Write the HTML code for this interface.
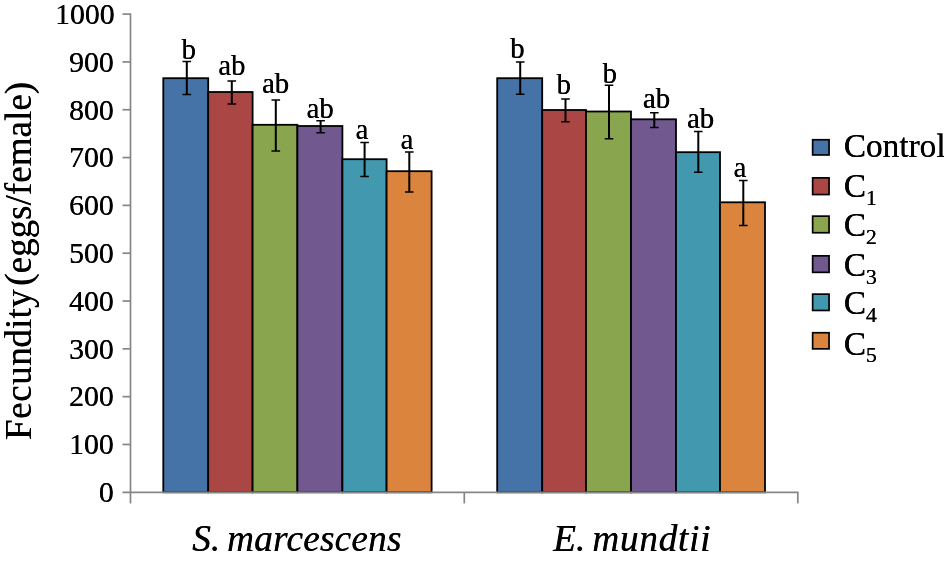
<!DOCTYPE html>
<html lang="en">
<head>
<meta charset="utf-8">
<title>Fecundity chart</title>
<style>
html,body{margin:0;padding:0;background:#fff;}
body{width:944px;height:562px;overflow:hidden;}
svg{display:block;}
</style>
</head>
<body>
<svg width="944" height="562" viewBox="0 0 944 562">
<rect width="944" height="562" fill="#ffffff"/>
<rect x="163.3" y="78.2" width="44.9" height="414.1" fill="#4572A7" stroke="#000" stroke-width="1.8"/>
<rect x="208.2" y="92" width="44.4" height="400.3" fill="#AA4643" stroke="#000" stroke-width="1.8"/>
<rect x="252.6" y="124.8" width="44.8" height="367.5" fill="#89A54E" stroke="#000" stroke-width="1.8"/>
<rect x="297.4" y="126" width="45" height="366.3" fill="#71588F" stroke="#000" stroke-width="1.8"/>
<rect x="342.4" y="159.2" width="44.2" height="333.1" fill="#4198AF" stroke="#000" stroke-width="1.8"/>
<rect x="386.6" y="171.2" width="45" height="321.1" fill="#DB843D" stroke="#000" stroke-width="1.8"/>
<rect x="497.2" y="78.2" width="45" height="414.1" fill="#4572A7" stroke="#000" stroke-width="1.8"/>
<rect x="542.2" y="110" width="43.8" height="382.3" fill="#AA4643" stroke="#000" stroke-width="1.8"/>
<rect x="586" y="111.5" width="45" height="380.8" fill="#89A54E" stroke="#000" stroke-width="1.8"/>
<rect x="631" y="119.3" width="45" height="373" fill="#71588F" stroke="#000" stroke-width="1.8"/>
<rect x="676" y="152.2" width="44" height="340.1" fill="#4198AF" stroke="#000" stroke-width="1.8"/>
<rect x="720" y="202.3" width="45" height="290" fill="#DB843D" stroke="#000" stroke-width="1.8"/>
<g stroke="#868686" stroke-width="1.7" fill="none">
<path d="M130.5 13.4 V503.4"/>
<path d="M122.5 492.3 H798.5"/>
<path d="M122.5 14.1 H130.5"/>
<path d="M122.5 61.92 H130.5"/>
<path d="M122.5 109.74 H130.5"/>
<path d="M122.5 157.56 H130.5"/>
<path d="M122.5 205.38 H130.5"/>
<path d="M122.5 253.2 H130.5"/>
<path d="M122.5 301.02 H130.5"/>
<path d="M122.5 348.84 H130.5"/>
<path d="M122.5 396.66 H130.5"/>
<path d="M122.5 444.48 H130.5"/>
<path d="M464.3 492.3 V503.4"/>
<path d="M797.8 492.3 V503.4"/>
</g>
<g stroke="#000" fill="none">
<path stroke-width="2" d="M186.8 61.5 V94.5"/><path stroke-width="1.5" d="M182.5 61.5 H191.1 M182.5 94.5 H191.1"/>
<path stroke-width="2" d="M231.8 81 V104"/><path stroke-width="1.5" d="M227.5 81 H236.1 M227.5 104 H236.1"/>
<path stroke-width="2" d="M275.8 100 V151"/><path stroke-width="1.5" d="M271.5 100 H280.1 M271.5 151 H280.1"/>
<path stroke-width="2" d="M320.6 120.8 V132.7"/><path stroke-width="1.5" d="M316.3 120.8 H324.9 M316.3 132.7 H324.9"/>
<path stroke-width="2" d="M364.6 142.5 V176.5"/><path stroke-width="1.5" d="M360.3 142.5 H368.9 M360.3 176.5 H368.9"/>
<path stroke-width="2" d="M409.3 152 V192.1"/><path stroke-width="1.5" d="M405 152 H413.6 M405 192.1 H413.6"/>
<path stroke-width="2" d="M520.2 62 V94.3"/><path stroke-width="1.5" d="M515.9 62 H524.5 M515.9 94.3 H524.5"/>
<path stroke-width="2" d="M565.5 99 V121.8"/><path stroke-width="1.5" d="M561.2 99 H569.8 M561.2 121.8 H569.8"/>
<path stroke-width="2" d="M609 85.3 V138.8"/><path stroke-width="1.5" d="M604.7 85.3 H613.3 M604.7 138.8 H613.3"/>
<path stroke-width="2" d="M654.3 112.8 V127.5"/><path stroke-width="1.5" d="M650 112.8 H658.6 M650 127.5 H658.6"/>
<path stroke-width="2" d="M698.3 131.6 V172.3"/><path stroke-width="1.5" d="M694 131.6 H702.6 M694 172.3 H702.6"/>
<path stroke-width="2" d="M743.3 180.5 V225.5"/><path stroke-width="1.5" d="M739 180.5 H747.6 M739 225.5 H747.6"/>
</g>
<g font-family="'Liberation Serif', serif" font-size="29.8" fill="#000" style="text-shadow:0.35px 0 0 #000">
<text x="54.92" y="23.9">1000</text>
<text x="68.92" y="71.72">900</text>
<text x="68.92" y="119.54">800</text>
<text x="68.92" y="167.36">700</text>
<text x="68.92" y="215.18">600</text>
<text x="68.92" y="263">500</text>
<text x="68.92" y="310.82">400</text>
<text x="68.92" y="358.64">300</text>
<text x="68.92" y="406.46">200</text>
<text x="68.92" y="454.28">100</text>
<text x="98.72" y="502.1">0</text>
</g>
<g font-family="'Liberation Serif', serif" font-size="28.7" fill="#000" style="text-shadow:0.35px 0 0 #000">
<text x="181.41" y="59.11">b</text>
<text x="218.18" y="75.31">ab</text>
<text x="261.88" y="93.21">ab</text>
<text x="306.48" y="118.01">ab</text>
<text x="355.43" y="139.41">a</text>
<text x="400.43" y="149.21">a</text>
<text x="510.06" y="57.71">b</text>
<text x="556.46" y="93.81">b</text>
<text x="602.51" y="82.71">b</text>
<text x="642.83" y="108.41">ab</text>
<text x="686.88" y="128.21">ab</text>
<text x="733.43" y="177.31">a</text>
</g>
<text transform="translate(31.3 440.22) rotate(-90)" dx="0 .55 .55 .55 .55 -.45 .05 .3 .3 -5.7" font-family="'Liberation Serif', serif" font-size="37.1" fill="#000" style="text-shadow:0.35px 0 0 #000">Fecundity (eggs/female)</text>
<g font-family="'Liberation Serif', serif" font-size="37.2" font-style="italic" fill="#000" style="text-shadow:0.35px 0 0 #000">
<text x="192.06" y="551.2">S.<tspan dx="-2.5" letter-spacing="0.25"> marcescens</tspan></text>
<text x="553.08" y="551.2">E.<tspan dx="-2.9" letter-spacing="0.75"> mundtii</tspan></text>
</g>
<g font-family="'Liberation Serif', serif" font-size="33.3" fill="#000" style="text-shadow:0.35px 0 0 #000">
<rect x="812.65" y="139.75" width="16.4" height="15.2" fill="#4572A7" stroke="#000" stroke-width="1.7"/>
<text x="843.67" y="157.4">Control</text>
<rect x="812.65" y="177.85" width="16.4" height="16.7" fill="#AA4643" stroke="#000" stroke-width="1.7"/>
<text x="843.67" y="197.4">C<tspan font-size="21.9" dx="-0.2" dy="7.5">1</tspan></text>
<rect x="812.65" y="216.15" width="16.4" height="16.6" fill="#89A54E" stroke="#000" stroke-width="1.7"/>
<text x="843.67" y="236.4">C<tspan font-size="21.9" dx="-0.2" dy="7.5">2</tspan></text>
<rect x="812.65" y="255.85" width="16.4" height="16.5" fill="#71588F" stroke="#000" stroke-width="1.7"/>
<text x="843.67" y="276.4">C<tspan font-size="21.9" dx="-0.2" dy="7.5">3</tspan></text>
<rect x="812.65" y="294.15" width="16.4" height="16.3" fill="#4198AF" stroke="#000" stroke-width="1.7"/>
<text x="843.67" y="314.3">C<tspan font-size="21.9" dx="-0.2" dy="7.5">4</tspan></text>
<rect x="812.65" y="332.75" width="16.4" height="16.1" fill="#DB843D" stroke="#000" stroke-width="1.7"/>
<text x="843.67" y="354.6">C<tspan font-size="21.9" dx="-0.2" dy="7.5">5</tspan></text>
</g>
</svg>
</body>
</html>
